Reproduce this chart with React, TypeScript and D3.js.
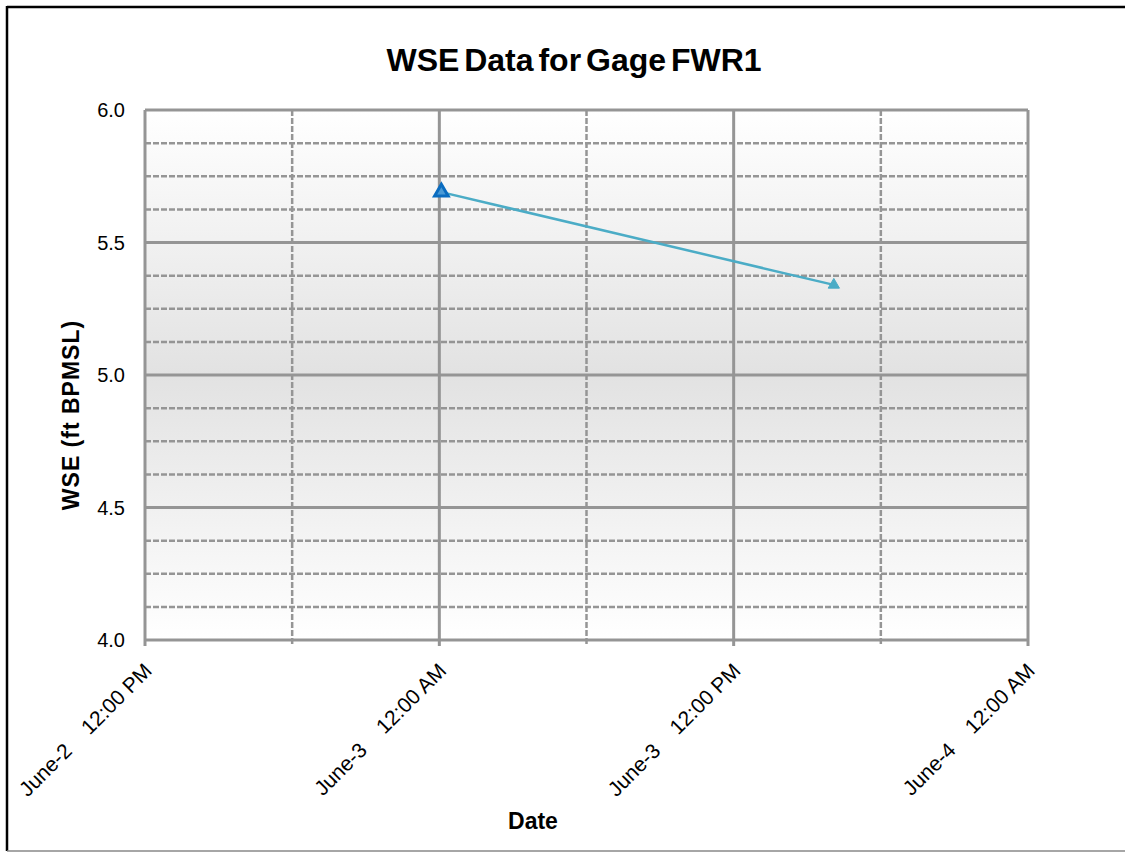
import React, { useEffect, useRef } from "react";
import * as d3 from "d3";

const title = "WSE Data for Gage FWR1";
const yTitle = "WSE (ft BPMSL)";
const xTitle = "Date";

const sampleTimes = ["2010-06-03T00:05", "2010-06-03T16:05"];
const wseValues = [5.69, 5.34];

const yMajorTicks = [4.0, 4.5, 5.0, 5.5, 6.0];
const xTickTimes = ["2010-06-02T12:00", "2010-06-03T00:00", "2010-06-03T12:00", "2010-06-04T00:00"];
const xTickLabels = ["June-2    12:00 PM", "June-3    12:00 AM", "June-3    12:00 PM", "June-4    12:00 AM"];

const FONT = "Liberation Sans, Arial, sans-serif";

const App: React.FC = (): JSX.Element => {
  const ref = useRef<SVGSVGElement>(null);

  useEffect(() => {
    const width = 1125, height = 853;
    const margin = { top: 110, right: 97, bottom: 213, left: 145 };
    const w = width - margin.left - margin.right,
      h = height - margin.top - margin.bottom;

    const svg = d3.select(ref.current);
    svg.selectAll("*").remove();
    svg.attr("width", width).attr("height", height);

    const parse = (s: string) => new Date(s);
    const x = d3.scaleTime()
      .domain([parse(xTickTimes[0]), parse(xTickTimes[xTickTimes.length - 1])])
      .range([0, w]);
    const y = d3.scaleLinear().domain([4, 6]).range([h, 0]);

    const defs = svg.append("defs");
    const grad = defs.append("linearGradient")
      .attr("id", "bg").attr("x1", 0).attr("y1", 0).attr("x2", 0).attr("y2", 1);
    grad.append("stop").attr("offset", "0%").attr("stop-color", "#ffffff");
    grad.append("stop").attr("offset", "50%").attr("stop-color", "#e2e2e2");
    grad.append("stop").attr("offset", "100%").attr("stop-color", "#ffffff");

    // outer frame
    svg.append("rect").attr("x", 0).attr("y", 0).attr("width", width).attr("height", height).attr("fill", "#fff");
    svg.append("line").attr("x1", 7).attr("x2", width).attr("y1", 7).attr("y2", 7)
      .attr("stroke", "#000").attr("stroke-width", 2.5);
    svg.append("line").attr("x1", 7).attr("x2", 7).attr("y1", 6).attr("y2", 851)
      .attr("stroke", "#000").attr("stroke-width", 2.5);
    svg.append("line").attr("x1", 7).attr("x2", width).attr("y1", 851).attr("y2", 851)
      .attr("stroke", "#888").attr("stroke-width", 1.5);

    const g = svg.append("g").attr("transform", `translate(${margin.left},${margin.top})`);

    g.append("rect").attr("width", w).attr("height", h).attr("fill", "url(#bg)");

    const gridColor = "#959595";

    // minor horizontal (dashed)
    const yMinor = d3.range(4, 6.0001, 0.125).filter(v => Math.abs((v * 2) - Math.round(v * 2)) > 1e-6);
    g.selectAll(".ymin").data(yMinor).enter().append("line")
      .attr("x1", 0).attr("x2", w).attr("y1", d => y(d)).attr("y2", d => y(d))
      .attr("stroke", gridColor).attr("stroke-width", 2.5).attr("stroke-dasharray", "6,2");

    // minor vertical (dashed), every 6 hours
    const xMinor = d3.timeHour.every(6)!.range(x.domain()[0], x.domain()[1])
      .filter(d => d.getHours() % 12 !== 0);
    g.selectAll(".xmin").data(xMinor).enter().append("line")
      .attr("x1", d => x(d)).attr("x2", d => x(d)).attr("y1", 0).attr("y2", h + 6)
      .attr("stroke", gridColor).attr("stroke-width", 2.5).attr("stroke-dasharray", "6,2");

    // major horizontal
    g.selectAll(".ymaj").data(yMajorTicks).enter().append("line")
      .attr("x1", 0).attr("x2", w).attr("y1", d => y(d)).attr("y2", d => y(d))
      .attr("stroke", gridColor).attr("stroke-width", 3);

    // major vertical
    g.selectAll(".xmaj").data(xTickTimes.map(parse)).enter().append("line")
      .attr("x1", d => x(d)).attr("x2", d => x(d)).attr("y1", 0).attr("y2", h + 6)
      .attr("stroke", gridColor).attr("stroke-width", 3);

    // y tick labels
    g.selectAll(".ylab").data(yMajorTicks).enter().append("text")
      .attr("x", -20).attr("y", d => y(d)).attr("dy", "0.35em")
      .attr("text-anchor", "end")
      .style("font-family", FONT)
      .style("font-size", "20px")
      .text(d => d.toFixed(1));

    // x tick labels, rotated
    g.selectAll(".xlab").data(xTickTimes).enter().append("text")
      .attr("transform", d => `translate(${x(parse(d)) + 3},${h + 27}) rotate(-45)`)
      .attr("text-anchor", "end")
      .attr("dy", "0.35em")
      .style("font-family", FONT)
      .style("font-size", "21px")
      .style("white-space", "pre")
      .attr("xml:space", "preserve")
      .text((d, i) => xTickLabels[i]);

    // data line
    const pts = sampleTimes.map((t, i) => ({ t: parse(t), v: wseValues[i] }));
    const line = d3.line<{ t: Date; v: number }>().x(d => x(d.t)).y(d => y(d.v));
    g.append("path").datum(pts).attr("d", line)
      .attr("fill", "none").attr("stroke", "#4bacc6").attr("stroke-width", 2.5);

    const tri = d3.symbol().type(d3.symbolTriangle);
    g.selectAll(".mk").data(pts).enter().append("path")
      .attr("transform", d => `translate(${x(d.t)},${y(d.v)})`)
      .attr("d", (d, i) => tri.size(i === 0 ? 80 : 55)())
      .attr("fill", (d, i) => i === 0 ? "#4a9ad6" : "#4bacc6")
      .attr("stroke", (d, i) => i === 0 ? "#0a6cc0" : "#4bacc6")
      .attr("stroke-width", (d, i) => i === 0 ? 3 : 1);

    // titles
    svg.append("text").attr("x", 574).attr("y", 71).attr("text-anchor", "middle")
      .style("font-family", FONT)
      .style("font-size", "32px").style("font-weight", "bold")
      .style("word-spacing", "-4px")
      .text(title);

    svg.append("text").attr("x", 533).attr("y", 829).attr("text-anchor", "middle")
      .style("font-family", FONT)
      .style("font-size", "23px").style("font-weight", "bold")
      .text(xTitle);

    svg.append("text").attr("transform", "translate(79,415) rotate(-90)").attr("text-anchor", "middle")
      .style("font-family", FONT)
      .style("font-size", "23px").style("font-weight", "bold")
      .style("letter-spacing", "1px")
      .text(yTitle);
  }, []);

  return (
    <div style={{ position: "absolute", left: 0, top: 0 }}>
      <svg ref={ref} style={{ display: "block" }}></svg>
    </div>
  );
};

export default App;
